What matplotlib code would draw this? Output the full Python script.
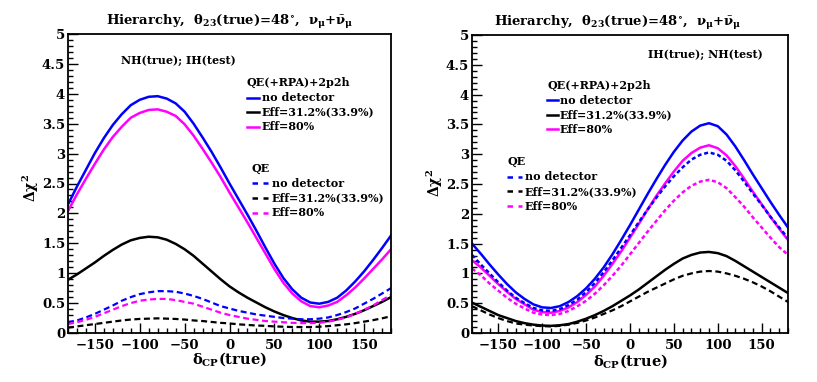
import matplotlib
matplotlib.use('Agg')
import matplotlib.pyplot as plt
from matplotlib.lines import Line2D
from matplotlib.ticker import MultipleLocator

plt.rcParams['font.family'] = ['DejaVu Serif']
plt.rcParams['font.weight'] = 'bold'
plt.rcParams['mathtext.fontset'] = 'custom'
plt.rcParams['mathtext.rm'] = 'DejaVu Serif:bold'
plt.rcParams['mathtext.it'] = 'DejaVu Serif:bold'
plt.rcParams['mathtext.bf'] = 'DejaVu Serif:bold'

# delta_CP(true) grid, degrees
delta_cp = list(range(-180, 181, 10))

# left panel: NH(true); IH(test)
nh_full_nodet = [2.15, 2.45, 2.73, 3.01, 3.26, 3.48, 3.66, 3.81, 3.90, 3.95,
                 3.96, 3.92, 3.84, 3.70, 3.50, 3.27, 3.03, 2.77, 2.50,
                 2.24, 1.98, 1.71, 1.43, 1.16, 0.92, 0.73, 0.59, 0.51,
                 0.49, 0.52, 0.59, 0.71, 0.86, 1.03, 1.22, 1.42, 1.63]
nh_full_eff31 = [0.89, 0.98, 1.08, 1.18, 1.29, 1.39, 1.48, 1.55, 1.59, 1.61,
                 1.60, 1.56, 1.49, 1.40, 1.29, 1.16, 1.03, 0.90, 0.78,
                 0.68, 0.59, 0.51, 0.43, 0.36, 0.30, 0.25, 0.21, 0.19,
                 0.19, 0.20, 0.23, 0.27, 0.32, 0.38, 0.45, 0.52, 0.60]
nh_full_eff80 = [2.04, 2.32, 2.58, 2.83, 3.07, 3.28, 3.45, 3.60, 3.68, 3.73,
                 3.74, 3.70, 3.63, 3.49, 3.30, 3.08, 2.85, 2.61, 2.35,
                 2.10, 1.85, 1.59, 1.33, 1.07, 0.84, 0.66, 0.53, 0.45,
                 0.43, 0.46, 0.52, 0.63, 0.76, 0.91, 1.07, 1.23, 1.40]
nh_qe_nodet = [0.18, 0.21, 0.26, 0.32, 0.39, 0.46, 0.54, 0.60, 0.65, 0.68,
               0.70, 0.70, 0.69, 0.66, 0.62, 0.57, 0.51, 0.45, 0.41,
               0.37, 0.34, 0.31, 0.29, 0.27, 0.25, 0.24, 0.23, 0.23,
               0.24, 0.26, 0.30, 0.35, 0.41, 0.49, 0.57, 0.66, 0.75]
nh_qe_eff31 = [0.09, 0.11, 0.13, 0.15, 0.17, 0.19, 0.21, 0.225, 0.235, 0.24,
               0.245, 0.24, 0.235, 0.225, 0.21, 0.20, 0.185, 0.17, 0.16,
               0.145, 0.135, 0.125, 0.12, 0.11, 0.105, 0.10, 0.10, 0.10,
               0.105, 0.115, 0.13, 0.145, 0.165, 0.19, 0.215, 0.245, 0.28]
nh_qe_eff80 = [0.15, 0.18, 0.22, 0.27, 0.33, 0.39, 0.45, 0.50, 0.54, 0.56,
               0.57, 0.57, 0.55, 0.52, 0.49, 0.44, 0.39, 0.34, 0.30,
               0.27, 0.24, 0.22, 0.20, 0.19, 0.18, 0.17, 0.165, 0.165,
               0.17, 0.19, 0.22, 0.26, 0.32, 0.39, 0.46, 0.55, 0.64]

# right panel: IH(true); NH(test)
ih_full_nodet = [1.50, 1.33, 1.15, 0.98, 0.82, 0.68, 0.57, 0.48, 0.43, 0.42,
                 0.45, 0.52, 0.62, 0.75, 0.91, 1.10, 1.32, 1.56, 1.81,
                 2.07, 2.33, 2.58, 2.82, 3.04, 3.23, 3.38, 3.48, 3.52,
                 3.47, 3.33, 3.13, 2.90, 2.66, 2.43, 2.20, 1.98, 1.77]
ih_full_eff31 = [0.51, 0.44, 0.37, 0.30, 0.25, 0.20, 0.165, 0.14, 0.125, 0.12,
                 0.13, 0.15, 0.19, 0.24, 0.30, 0.37, 0.45, 0.54, 0.63,
                 0.73, 0.84, 0.95, 1.06, 1.16, 1.25, 1.31, 1.35, 1.36,
                 1.34, 1.29, 1.21, 1.12, 1.03, 0.94, 0.85, 0.76, 0.67]
ih_full_eff80 = [1.22, 1.10, 0.96, 0.82, 0.69, 0.57, 0.48, 0.39, 0.35, 0.34,
                 0.37, 0.43, 0.52, 0.64, 0.78, 0.96, 1.16, 1.37, 1.60,
                 1.83, 2.07, 2.30, 2.51, 2.71, 2.89, 3.02, 3.11, 3.15,
                 3.10, 2.98, 2.80, 2.59, 2.37, 2.16, 1.95, 1.75, 1.56]
ih_qe_nodet = [1.31, 1.15, 1.00, 0.85, 0.71, 0.59, 0.50, 0.42, 0.38, 0.37,
               0.40, 0.47, 0.56, 0.69, 0.84, 1.02, 1.22, 1.43, 1.64,
               1.86, 2.07, 2.27, 2.46, 2.63, 2.78, 2.91, 2.99, 3.03,
               2.99, 2.89, 2.73, 2.54, 2.34, 2.15, 1.95, 1.77, 1.59]
ih_qe_eff31 = [0.45, 0.38, 0.31, 0.25, 0.20, 0.16, 0.14, 0.125, 0.115, 0.11,
               0.12, 0.14, 0.17, 0.21, 0.26, 0.32, 0.38, 0.45, 0.53,
               0.61, 0.69, 0.76, 0.83, 0.90, 0.96, 1.00, 1.03, 1.04,
               1.03, 1.00, 0.96, 0.91, 0.85, 0.78, 0.70, 0.61, 0.52]
ih_qe_eff80 = [1.08, 0.97, 0.83, 0.71, 0.59, 0.49, 0.41, 0.34, 0.31, 0.30,
               0.32, 0.37, 0.45, 0.54, 0.66, 0.80, 0.96, 1.13, 1.32,
               1.51, 1.70, 1.88, 2.06, 2.22, 2.36, 2.47, 2.54, 2.57,
               2.53, 2.43, 2.28, 2.12, 1.94, 1.77, 1.60, 1.44, 1.31]

title = r'Hierarchy,  $\theta_{23}$(true)=48$^{\circ}$,  $\nu_{\mu}$+$\bar{\nu}_{\mu}$'
labels = ['no detector', 'Eff=31.2%(33.9%)', 'Eff=80%']
colours = ['#0000ff', 'black', '#ff00ff']

W, H = 817, 382
fig = plt.figure(figsize=(W / 100, H / 100), dpi=100)


def fx(x):
    return x / W


def fy(y):
    return 1 - y / H


def style_axes(ax):
    ax.set_xlim(-180, 180)
    ax.set_ylim(0, 5)
    ax.xaxis.set_major_locator(MultipleLocator(50))
    ax.xaxis.set_minor_locator(MultipleLocator(10))
    ax.yaxis.set_minor_locator(MultipleLocator(0.1))
    ax.set_yticks([0, 0.5, 1, 1.5, 2, 2.5, 3, 3.5, 4, 4.5, 5])
    ax.set_yticklabels(['0', '0.5', '1', '1.5', '2', '2.5', '3', '3.5', '4', '4.5', '5'])
    ax.tick_params(which='both', direction='in', top=False, right=False, width=1)
    ax.tick_params(which='major', length=7, labelsize=9.5)
    ax.tick_params(which='minor', length=3.5)
    ax.tick_params(axis='x', pad=4)
    ax.tick_params(axis='y', pad=2)
    for s in ax.spines.values():
        s.set_linewidth(1.3)


def legend_line(x0, x1, y, colour, dashed):
    ln = Line2D([fx(x0), fx(x1)], [fy(y), fy(y)], transform=fig.transFigure,
                color=colour, lw=1.8)
    if dashed:
        ln.set_dashes((2.2, 2.2))
    fig.add_artist(ln)


ax1 = fig.add_axes([fx(68), fy(333), 323 / W, 299 / H])
ax2 = fig.add_axes([fx(472), fy(333), 316 / W, 298 / H])

# left panel
for vals, c in zip([nh_full_nodet, nh_full_eff31, nh_full_eff80], colours):
    ax1.plot(delta_cp, vals, color=c, lw=1.8)
for vals, c in zip([nh_qe_nodet, nh_qe_eff31, nh_qe_eff80], colours):
    ax1.plot(delta_cp, vals, color=c, lw=1.6, dashes=(2.7, 1.6))

# right panel
for vals, c in zip([ih_full_nodet, ih_full_eff31, ih_full_eff80], colours):
    ax2.plot(delta_cp, vals, color=c, lw=1.8)
ax2.plot(delta_cp, ih_qe_nodet, color=colours[0], lw=1.8, dashes=(1.6, 1.1))
ax2.plot(delta_cp, ih_qe_eff31, color=colours[1], lw=1.6, dashes=(2.7, 1.6))
ax2.plot(delta_cp, ih_qe_eff80, color=colours[2], lw=1.8, dashes=(1.6, 1.1))

for ax in (ax1, ax2):
    style_axes(ax)

# titles and axis labels
fig.text(fx(230), fy(22), title, ha='center', va='center', fontsize=9.5)
fig.text(fx(618), fy(23), title, ha='center', va='center', fontsize=9.5)
fig.text(fx(229), fy(359), r'$\delta_{\rm CP}$(true)', ha='center', va='center', fontsize=10.5)
fig.text(fx(630), fy(361), r'$\delta_{\rm CP}$(true)', ha='center', va='center', fontsize=10.5)
fig.text(fx(31), fy(188), r'$\Delta\chi^{2}$', ha='center', va='center', fontsize=10, rotation=90)
fig.text(fx(435), fy(183), r'$\Delta\chi^{2}$', ha='center', va='center', fontsize=10, rotation=90)

fs = 8
# left panel legend
fig.text(fx(121), fy(61), 'NH(true); IH(test)', ha='left', va='center', fontsize=fs)
fig.text(fx(247), fy(82), 'QE(+RPA)+2p2h', ha='left', va='center', fontsize=fs)
for i, (lab, c) in enumerate(zip(labels, colours)):
    y = 97.5 + 14.6 * i
    legend_line(247, 259, y, c, False)
    fig.text(fx(262), fy(y), lab, ha='left', va='center', fontsize=fs)
fig.text(fx(252), fy(168), 'QE', ha='left', va='center', fontsize=fs)
for i, (lab, c) in enumerate(zip(labels, colours)):
    y = 183.3 + 14.8 * i
    legend_line(252, 268, y, c, True)
    fig.text(fx(272), fy(y), lab, ha='left', va='center', fontsize=fs)

# right panel legend
fig.text(fx(648), fy(54), 'IH(true); NH(test)', ha='left', va='center', fontsize=fs)
fig.text(fx(547), fy(85), 'QE(+RPA)+2p2h', ha='left', va='center', fontsize=fs)
for i, (lab, c) in enumerate(zip(labels, colours)):
    y = 100 + 14.7 * i
    legend_line(547, 558, y, c, False)
    fig.text(fx(560), fy(y), lab, ha='left', va='center', fontsize=fs)
fig.text(fx(507), fy(162), 'QE', ha='left', va='center', fontsize=fs)
for i, (lab, c) in enumerate(zip(labels, colours)):
    y = 176.5 + 14.8 * i
    legend_line(507, 522, y, c, True)
    fig.text(fx(525), fy(y), lab, ha='left', va='center', fontsize=fs)

fig.savefig('out.png', dpi=100)
